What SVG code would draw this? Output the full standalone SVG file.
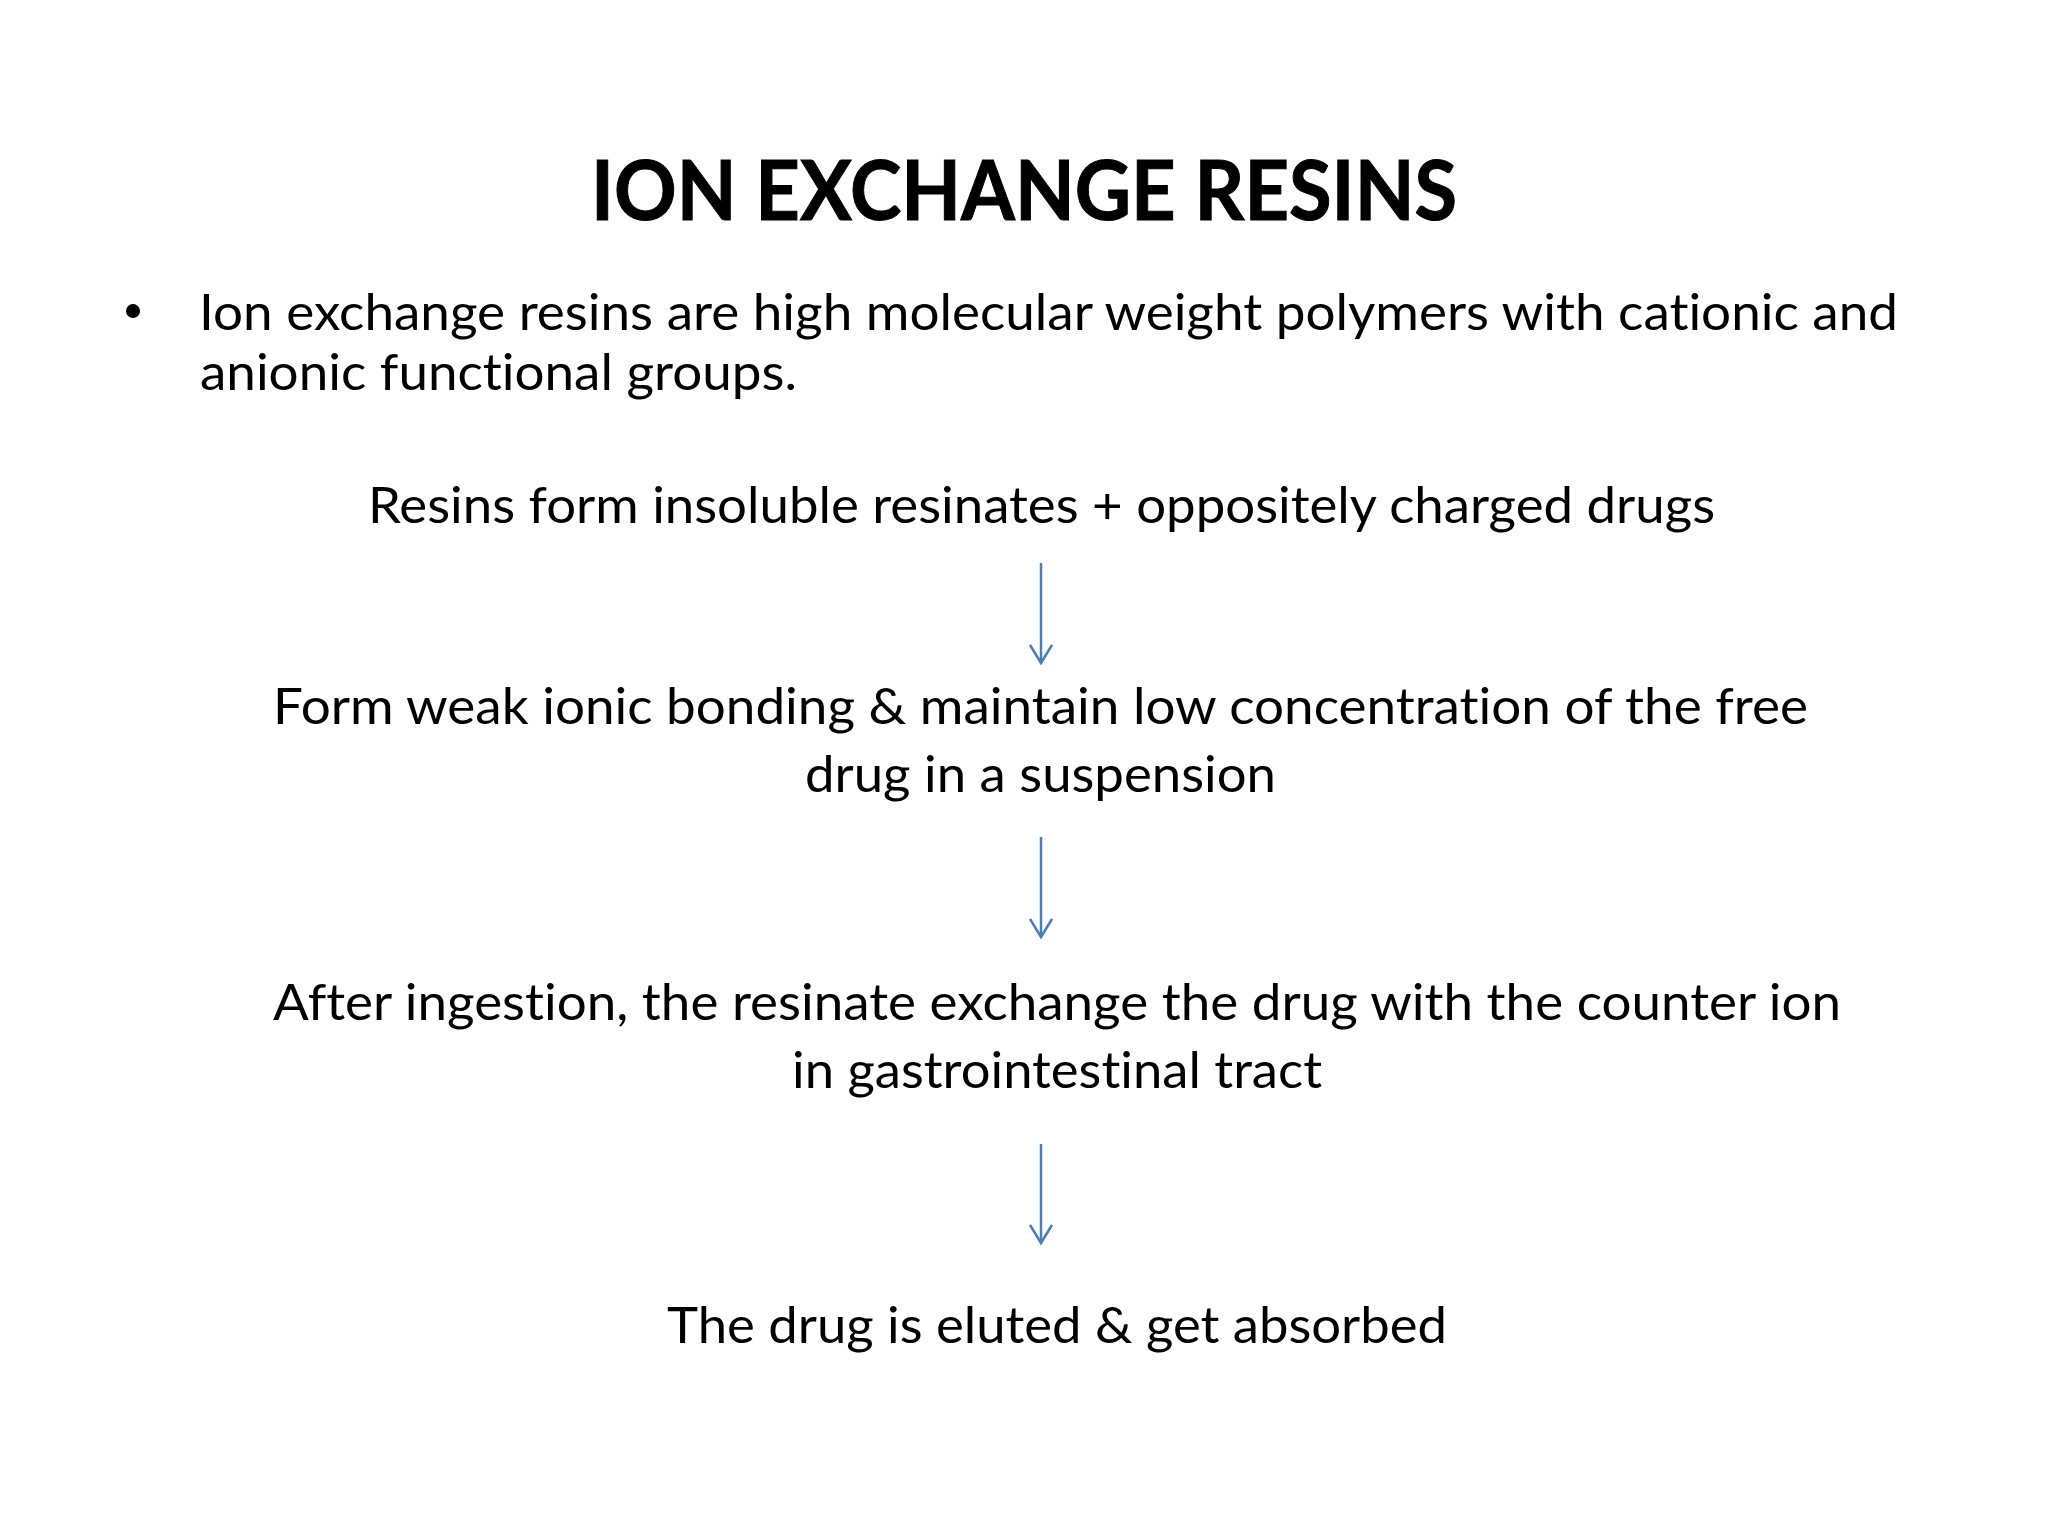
<svg xmlns="http://www.w3.org/2000/svg" width="2048" height="1536" viewBox="0 0 2048 1536">
  <style>
    .title { font-family: Lato, "Open Sans", "Liberation Sans", sans-serif; font-weight: 700; font-size: 82px; fill: #000; stroke: #000; stroke-width: 1; font-variant-ligatures: none; }
    .body { font-family: Lato, "Open Sans", "Liberation Sans", sans-serif; font-weight: 400; font-size: 50px; fill: #000; font-variant-ligatures: none; }
    .conn { stroke: #4a7ebb; stroke-width: 2.5; fill: none; }
  </style>
  <defs>
    <marker id="arrowhead" viewBox="0 0 24 24" refX="20" refY="12" markerWidth="24" markerHeight="24" markerUnits="userSpaceOnUse" orient="auto">
      <path d="M2,1 L20,12 L2,23" fill="none" stroke="#4a7ebb" stroke-width="2.5"/>
    </marker>
  </defs>
  <rect width="2048" height="1536" fill="#ffffff"/>

  <g id="title">
    <text class="title" x="591" y="220" textLength="866" lengthAdjust="spacingAndGlyphs">ION EXCHANGE RESINS</text>
  </g>

  <g id="bullet-intro">
    <circle cx="133" cy="311" r="7" fill="#000"/>
    <text class="body" x="199" y="330" textLength="1699" lengthAdjust="spacingAndGlyphs">Ion exchange resins are high molecular weight polymers with cationic and</text>
    <text class="body" x="200" y="390" textLength="597" lengthAdjust="spacingAndGlyphs">anionic functional groups.</text>
  </g>

  <g id="step1">
    <text class="body" x="368" y="523" textLength="1347" lengthAdjust="spacingAndGlyphs">Resins form insoluble resinates + oppositely charged drugs</text>
  </g>

  <g id="step2">
    <text class="body" x="273" y="724" textLength="1535" lengthAdjust="spacingAndGlyphs">Form weak ionic bonding &amp; maintain low concentration of the free</text>
    <text class="body" x="805" y="792" textLength="471" lengthAdjust="spacingAndGlyphs">drug in a suspension</text>
  </g>

  <g id="step3">
    <text class="body" x="273" y="1020" textLength="1568" lengthAdjust="spacingAndGlyphs">After ingestion, the resinate exchange the drug with the counter ion</text>
    <text class="body" x="792" y="1088" textLength="530" lengthAdjust="spacingAndGlyphs">in gastrointestinal tract</text>
  </g>

  <g id="step4">
    <text class="body" x="667" y="1343" textLength="780" lengthAdjust="spacingAndGlyphs">The drug is eluted &amp; get absorbed</text>
  </g>

  <g id="connectors">
    <line class="conn" x1="1041" y1="563" x2="1041" y2="663" marker-end="url(#arrowhead)"/>
    <line class="conn" x1="1041" y1="837" x2="1041" y2="937" marker-end="url(#arrowhead)"/>
    <line class="conn" x1="1041" y1="1144" x2="1041" y2="1243" marker-end="url(#arrowhead)"/>
  </g>
</svg>
